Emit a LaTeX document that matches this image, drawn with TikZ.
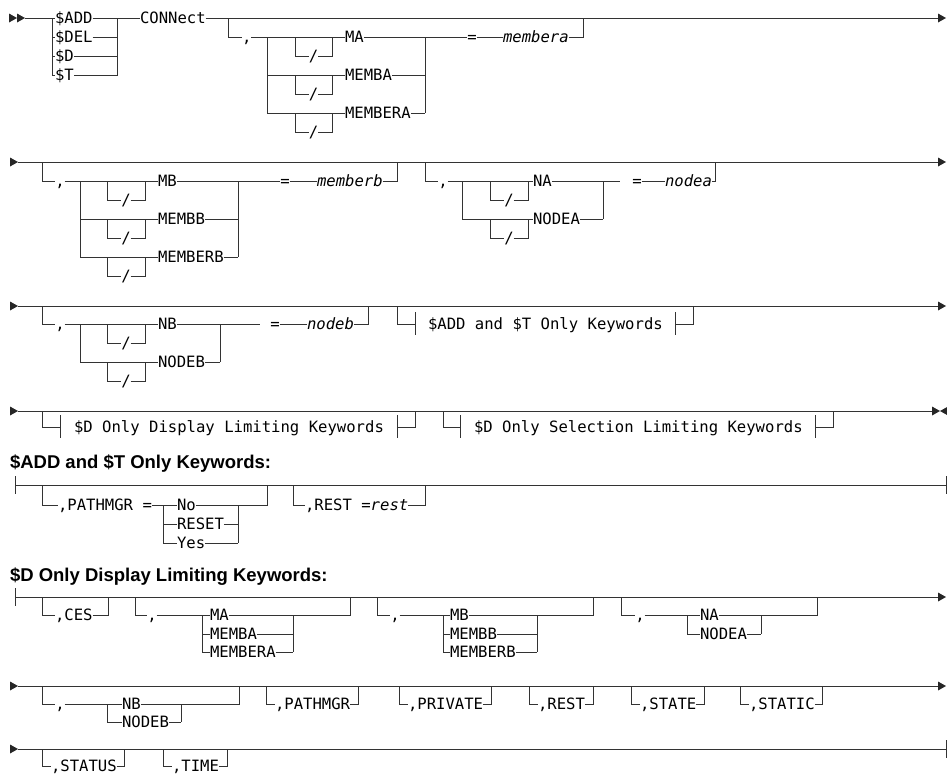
\documentclass[tikz,border=0pt]{standalone}
\usepackage{fontspec}
\setmonofont{DejaVu Sans Mono}
\newfontfamily\hdrfont{Liberation Sans}
\usetikzlibrary{calc}
\newcommand\rrfs{\fontsize{15.6}{17}\selectfont}
\tikzset{
  rr/.style={line width=0.8pt, draw=black!80},
  kw/.style={inner sep=0pt, outer sep=0pt, font=\ttfamily\rrfs, text height=11.4pt, text depth=0pt, anchor=west},
  var/.style={kw, font=\ttfamily\itshape\rrfs},
  hdr/.style={inner sep=0pt, outer sep=0pt, font=\hdrfont\bfseries\fontsize{18.5}{20}\selectfont, text height=13.3pt, text depth=0pt, anchor=west},
}
\newcommand\rarr[2]{\fill[black!85] (#1,#2-4.5) -- (#1+8,#2) -- (#1,#2+4.5) -- cycle;}
\newcommand\larr[2]{\fill[black!85] (#1,#2-4.5) -- (#1-8,#2) -- (#1,#2+4.5) -- cycle;}
\newcommand\tick[2]{\draw[rr] (#1,#2-9) -- (#1,#2+9);}
\newcommand\ftick[1]{\draw[rr] (#1) ++(0,-12) -- ++(0,23);}
% slash box: x1, x2, row y, name
\newcommand\slashbox[4]{%
  \node[kw,anchor=center] (#4) at ({(#1+#2)/2},#3+19) {/};
  \draw[rr] (#1,#3) |- (#4.west);
  \draw[rr] (#4.east) -| (#2,#3);}
% optional keyword: name, x, item y, main y, text
\newcommand\optkw[5]{%
  \node[kw] (#1) at (#2+9,#3) {#5};
  \draw[rr] (#2,#4) |- (#1.west);
  \draw[rr] (#1.east) -- ++(8,0) -- ++(0,#4-#3);}
\begin{document}
\begin{tikzpicture}[x=1pt,y=-1pt]
\useasboundingbox (0,0) rectangle (947,777);
% ================= Row 1 =================
\rarr{9}{18}\rarr{17}{18}
\node[kw] (add) at (55,18) {\$ADD};
\node[kw] (del) at (55,37) {\$DEL};
\node[kw] (dd) at (55,56) {\$D};
\node[kw] (tt) at (55,75) {\$T};
\draw[rr] (25,18) -- (add.west);
\draw[rr] (52,18) |- (tt.west);
\draw[rr] (52,37) -- (del.west);
\draw[rr] (52,56) -- (dd.west);
\draw[rr] (add.east) -- (117,18) |- (tt.east);
\draw[rr] (del.east) -- (117,37);
\draw[rr] (dd.east) -- (117,56);
\node[kw] (con) at (140,18) {CONNect};
\draw[rr] (117,18) -- (con.west);
\draw[rr] (con.east) -- (938,18);
\rarr{938}{18}
\node[kw] (c1) at (242,37) {,};
\draw[rr] (228,18) |- (c1.west);
\draw[rr] (c1.east) -- (267,37);
\draw[rr] (267,37) -- (267,113);
\node[kw] (ma1) at (345,37) {MA};
\node[kw] (memba1) at (345,75) {MEMBA};
\node[kw] (membera1) at (345,113) {MEMBERA};
\draw[rr] (267,37) -- (ma1.west);
\draw[rr] (267,75) -- (memba1.west);
\draw[rr] (267,113) -- (membera1.west);
\slashbox{295}{332}{37}{s1a}
\slashbox{295}{332}{75}{s1b}
\slashbox{295}{332}{113}{s1c}
\draw[rr] (ma1.east) -- (425,37);
\draw[rr] (memba1.east) -- (425,75);
\draw[rr] (membera1.east) -- (425,113);
\draw[rr] (425,37) -- (425,113);
\node[kw] (eq1) at (467.3,37) {=};
\draw[rr] (425,37) -- (eq1.west);
\node[var] (va) at (503,37) {membera};
\draw[rr] (eq1.east) -- (va.west);
\draw[rr] (va.east) -| (583,18);
% ================= Row 2 =================
\rarr{10}{162}
\draw[rr] (18,162) -- (938,162);
\rarr{938}{162}
\node[kw] (c2a) at (55.3,181) {,};
\draw[rr] (42,162) |- (c2a.west);
\draw[rr] (c2a.east) -- (80,181);
\draw[rr] (80,181) -- (80,257);
\node[kw] (mb2) at (158,181) {MB};
\node[kw] (membb2) at (158,219) {MEMBB};
\node[kw] (memberb2) at (158,257) {MEMBERB};
\draw[rr] (80,181) -- (mb2.west);
\draw[rr] (80,219) -- (membb2.west);
\draw[rr] (80,257) -- (memberb2.west);
\slashbox{107}{145}{181}{s2a}
\slashbox{107}{145}{219}{s2b}
\slashbox{107}{145}{257}{s2c}
\draw[rr] (mb2.east) -- (238,181);
\draw[rr] (membb2.east) -- (238,219);
\draw[rr] (memberb2.east) -- (238,257);
\draw[rr] (238,181) -- (238,257);
\node[kw] (eq2) at (280.3,181) {=};
\draw[rr] (238,181) -- (eq2.west);
\node[var] (vb) at (317,181) {memberb};
\draw[rr] (eq2.east) -- (vb.west);
\draw[rr] (vb.east) -| (397,162);
\node[kw] (c2b) at (438.3,181) {,};
\draw[rr] (425,162) |- (c2b.west);
\draw[rr] (c2b.east) -- (462,181);
\draw[rr] (462,181) -- (462,219);
\node[kw] (na2) at (533,181) {NA};
\node[kw] (nodea2) at (533,219) {NODEA};
\draw[rr] (462,181) -- (na2.west);
\draw[rr] (462,219) -- (nodea2.west);
\slashbox{490}{528}{181}{s2d}
\slashbox{490}{528}{219}{s2e}
\draw[rr] (na2.east) -- (603,181);
\draw[rr] (nodea2.east) -- (603,219);
\draw[rr] (603,181) -- (603,219);
\coordinate (g2) at (620,181);
\draw[rr] (603,181) -- (g2);
\node[kw] (eq3) at (632.3,181) {=};
\node[var] (vna) at (665,181) {nodea};
\draw[rr] (eq3.east) -- (vna.west);
\draw[rr] (vna.east) -| (715,162);
% ================= Row 3 =================
\rarr{10}{306}
\draw[rr] (18,306) -- (938,306);
\rarr{938}{306}
\coordinate (r3) at (0,306);
\node[kw] (c3) at (55.3,324) {,};
\draw[rr] (42,306) |- (c3.west);
\draw[rr] (c3.east) -- (80,324);
\draw[rr] (80,324) -- (80,362);
\node[kw] (nb3) at (158,324) {NB};
\node[kw] (nodeb3) at (158,362) {NODEB};
\draw[rr] (80,324) -- (nb3.west);
\draw[rr] (80,362) -- (nodeb3.west);
\slashbox{107}{145}{324}{s3a}
\slashbox{107}{145}{362}{s3b}
\draw[rr] (nb3.east) -- (220,324);
\draw[rr] (nodeb3.east) -- (220,362);
\draw[rr] (220,324) -- (220,362);
\coordinate (g3) at (260,324);
\draw[rr] (220,324) -- (g3);
\node[kw] (eq4) at (270.3,324) {=};
\node[var] (vnb) at (307,324) {nodeb};
\draw[rr] (eq4.east) -- (vnb.west);
\draw[rr] (vnb.east) -| (368,306);
\coordinate (f1s) at (415,324);
\draw[rr] (397,306) |- (f1s);
\ftick{f1s}
\node[kw] (f1) at (428,324) {\$ADD and \$T Only Keywords};
\path (f1.east) ++(13,0) coordinate (f1t) ++(18,0) coordinate (f1e);
\ftick{f1t}
\draw[rr] (f1t) -- (f1e) -- (f1e |- r3);
% ================= Row 4 =================
\rarr{10}{411}
\draw[rr] (18,411) -- (932,411);
\rarr{932}{411}\larr{948}{411}
\coordinate (r4) at (0,411);
\coordinate (f2s) at (60,427);
\draw[rr] (42,411) |- (f2s);
\ftick{f2s}
\node[kw] (f2) at (74,427) {\$D Only Display Limiting Keywords};
\path (f2.east) ++(13,0) coordinate (f2t) ++(18,0) coordinate (f2e);
\ftick{f2t}
\draw[rr] (f2t) -- (f2e) -- (f2e |- r4);
\coordinate (f3s) at (460,427);
\draw[rr] (443,411) |- (f3s);
\ftick{f3s}
\node[kw] (f3) at (474,427) {\$D Only Selection Limiting Keywords};
\path (f3.east) ++(13,0) coordinate (f3t) ++(18,0) coordinate (f3e);
\ftick{f3t}
\draw[rr] (f3t) -- (f3e) -- (f3e |- r4);
% ================= Fragment: $ADD and $T =================
\node[hdr] (h1) at (10,462) {\$ADD and \$T Only Keywords:};
\tick{15}{485}
\draw[rr] (15,485) -- (946,485);
\tick{946}{485}
\node[kw] (pm) at (58,505) {,PATHMGR =};
\draw[rr] (42,485) |- (pm.west);
\draw[rr] (pm.east) -- (163,505);
\draw[rr] (163,505) -- (163,543);
\node[kw] (no) at (177,505) {No};
\node[kw] (reset) at (177,524) {RESET};
\node[kw] (yes) at (177,543) {Yes};
\draw[rr] (163,505) -- (no.west);
\draw[rr] (163,524) -- (reset.west);
\draw[rr] (163,543) -- (yes.west);
\draw[rr] (no.east) -- (238,505);
\draw[rr] (reset.east) -- (238,524);
\draw[rr] (yes.east) -- (238,543);
\draw[rr] (238,505) -- (238,543);
\draw[rr] (238,505) -| (267,485);
\node[kw] (rest) at (305,505) {,REST =\textit{rest}};
\draw[rr] (293,485) |- (rest.west);
\draw[rr] (rest.east) -| (425,485);
% ================= Fragment: $D Only Display =================
\node[hdr] (h2) at (10,575) {\$D Only Display Limiting Keywords:};
\tick{15}{597}
\draw[rr] (15,597) -- (938,597);
\rarr{938}{597}
\node[kw] (ces) at (55,615) {,CES};
\draw[rr] (42,597) |- (ces.west);
\draw[rr] (ces.east) -| (108,597);
\node[kw] (c6a) at (147.3,615) {,};
\draw[rr] (135,597) |- (c6a.west);
\draw[rr] (c6a.east) -- (202,615);
\draw[rr] (202,615) -- (202,652);
\node[kw] (ma6) at (210,615) {MA};
\node[kw] (memba6) at (210,634) {MEMBA};
\node[kw] (membera6) at (210,652) {MEMBERA};
\draw[rr] (202,615) -- (ma6.west);
\draw[rr] (202,634) -- (memba6.west);
\draw[rr] (202,652) -- (membera6.west);
\draw[rr] (ma6.east) -- (293,615);
\draw[rr] (memba6.east) -- (293,634);
\draw[rr] (membera6.east) -- (293,652);
\draw[rr] (293,615) -- (293,652);
\draw[rr] (293,615) -| (350,597);
\node[kw] (c6b) at (390.3,615) {,};
\draw[rr] (377,597) |- (c6b.west);
\draw[rr] (c6b.east) -- (443,615);
\draw[rr] (443,615) -- (443,652);
\node[kw] (mb6) at (450,615) {MB};
\node[kw] (membb6) at (450,634) {MEMBB};
\node[kw] (memberb6) at (450,652) {MEMBERB};
\draw[rr] (443,615) -- (mb6.west);
\draw[rr] (443,634) -- (membb6.west);
\draw[rr] (443,652) -- (memberb6.west);
\draw[rr] (mb6.east) -- (537,615);
\draw[rr] (membb6.east) -- (537,634);
\draw[rr] (memberb6.east) -- (537,652);
\draw[rr] (537,615) -- (537,652);
\draw[rr] (537,615) -| (593,597);
\node[kw] (c6c) at (635.3,615) {,};
\draw[rr] (621,597) |- (c6c.west);
\draw[rr] (c6c.east) -- (687,615);
\draw[rr] (687,615) -- (687,634);
\node[kw] (na6) at (700,615) {NA};
\node[kw] (nodea6) at (700,634) {NODEA};
\draw[rr] (687,615) -- (na6.west);
\draw[rr] (687,634) -- (nodea6.west);
\draw[rr] (na6.east) -- (761,615);
\draw[rr] (nodea6.east) -- (761,634);
\draw[rr] (761,615) -- (761,634);
\draw[rr] (761,615) -| (817,597);
% ================= Row 7 =================
\rarr{10}{686}
\draw[rr] (18,686) -- (938,686);
\rarr{938}{686}
\node[kw] (c7) at (55.3,704) {,};
\draw[rr] (42,686) |- (c7.west);
\draw[rr] (c7.east) -- (107,704);
\draw[rr] (107,704) -- (107,722);
\node[kw] (nb7) at (122,704) {NB};
\node[kw] (nodeb7) at (122,722) {NODEB};
\draw[rr] (107,704) -- (nb7.west);
\draw[rr] (107,722) -- (nodeb7.west);
\draw[rr] (nb7.east) -- (181,704);
\draw[rr] (nodeb7.east) -- (181,722);
\draw[rr] (181,704) -- (181,722);
\draw[rr] (181,704) -| (239,686);
\optkw{pm7}{266}{704}{686}{,PATHMGR}
\optkw{pv7}{399}{704}{686}{,PRIVATE}
\optkw{re7}{529}{704}{686}{,REST}
\optkw{se7}{631}{704}{686}{,STATE}
\optkw{sc7}{740}{704}{686}{,STATIC}
% ================= Row 8 =================
\rarr{10}{749}
\draw[rr] (18,749) -- (946,749);
\tick{946}{749}
\optkw{st8}{42}{766}{749}{,STATUS}
\optkw{ti8}{163}{766}{749}{,TIME}
\end{tikzpicture}
\end{document}
